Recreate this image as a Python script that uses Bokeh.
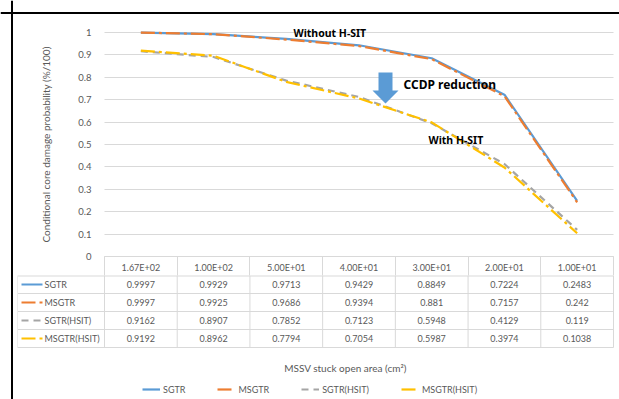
from bokeh.plotting import figure
from bokeh.models import (Range1d, FixedTicker, PrintfTickFormatter, LinearAxis,
                          Grid, Legend, LegendItem, Span)
from bokeh.embed import file_html
from bokeh.resources import INLINE
from bokeh.core.properties import value

# ---------------- data ----------------
categories = ["1.67E+02", "1.00E+02", "5.00E+01", "4.00E+01",
              "3.00E+01", "2.00E+01", "1.00E+01"]
series_names = ["SGTR", "MSGTR", "SGTR(HSIT)", "MSGTR(HSIT)"]
sgtr = [0.9997, 0.9929, 0.9713, 0.9429, 0.8849, 0.7224, 0.2483]
msgtr = [0.9997, 0.9925, 0.9686, 0.9394, 0.881, 0.7157, 0.242]
sgtr_hsit = [0.9162, 0.8907, 0.7852, 0.7123, 0.5948, 0.4129, 0.119]
msgtr_hsit = [0.9192, 0.8962, 0.7794, 0.7054, 0.5987, 0.3974, 0.1038]
y_ticks = [0.0, 0.1, 0.2, 0.3, 0.4, 0.5, 0.6, 0.7, 0.8, 0.9, 1.0]
y_title = "Conditional core damage probability (%/100)"
x_title = "MSSV stuck open area (cm\u00b2)"
ann_text = ["Without H-SIT", "CCDP reduction", "With H-SIT"]

# ---------------- styles / layout ----------------
FONT = "Lato"
BOLD = "Noto Sans"
TXT = "#595959"
GRID = "#D9D9D9"
colors = ["#5B9BD5", "#ED7D31", "#A5A5A5", "#FFC000"]
dashes = ["solid", "14 4 3 4", "7 5", "14 4 3 4"]
LW = 2.2

series = [sgtr, msgtr, sgtr_hsit, msgtr_hsit]
n = len(categories)
xc = [i + 0.5 for i in range(n)]
bounds = list(range(n + 1))

# pixel geometry of the plot area (x: 104..613 for the 7 columns,
# y: value 1 at 32, value 0 at 256)
X0, X7, Y1, Y0 = 104, 613, 32, 256
PX = (X7 - X0) / n
PY = float(Y0 - Y1)
W, H = 619, 399


def gx(px):
    return (px - X0) / PX


def gy(py):
    return (Y0 - py) / PY


p = figure(width=W, height=H,
           x_range=Range1d(gx(0), gx(W)),
           y_range=Range1d(gy(H), gy(0)),
           x_axis_type=None, y_axis_type=None,
           min_border_left=0, min_border_right=0,
           min_border_top=0, min_border_bottom=0,
           output_backend="svg", toolbar_location=None)
p.outline_line_color = None
p.background_fill_color = "white"
p.border_fill_color = "white"

# outer chart border (left / top)
p.add_layout(Span(location=gx(11.5), dimension="height",
                  line_color="black", line_width=2))
p.add_layout(Span(location=gy(12.5), dimension="width",
                  line_color="black", line_width=2))

# ---------------- axes / grid ----------------
yaxis = LinearAxis(fixed_location=0, bounds=(0, 1),
                   ticker=FixedTicker(ticks=y_ticks),
                   formatter=PrintfTickFormatter(format="%g"),
                   axis_label=y_title,
                   axis_line_color=None, major_tick_line_color=None,
                   minor_tick_line_color=None,
                   major_label_standoff=7,
                   major_label_text_font=FONT,
                   major_label_text_font_size="9.5px",
                   major_label_text_color=TXT,
                   axis_label_text_font=FONT,
                   axis_label_text_font_size="10px",
                   axis_label_text_font_style="normal",
                   axis_label_text_color=TXT,
                   axis_label_standoff=23)
p.add_layout(yaxis, "left")

grid_kw = dict(dimension=1, ticker=FixedTicker(ticks=y_ticks),
               grid_line_color=GRID, grid_line_width=1)
if "cross_bounds" in Grid.properties():
    p.add_layout(Grid(cross_bounds=(0, n), **grid_kw))
else:
    p.segment(x0=[0] * len(y_ticks), x1=[n] * len(y_ticks),
              y0=y_ticks, y1=y_ticks, line_color=GRID, line_width=1)

xaxis = LinearAxis(fixed_location=0, bounds=(0, n),
                   ticker=FixedTicker(ticks=xc, minor_ticks=bounds),
                   major_label_overrides={xc[i]: categories[i] for i in range(n)},
                   axis_line_color=GRID,
                   major_tick_out=0, major_tick_in=0,
                   minor_tick_out=19, minor_tick_in=0,
                   minor_tick_line_color=GRID,
                   major_label_standoff=-14,
                   major_label_text_font=FONT,
                   major_label_text_font_size="9px",
                   major_label_text_color=TXT)
p.add_layout(xaxis, "below")

# ---------------- series ----------------
for vals, c, d in zip(series, colors, dashes):
    p.line(xc, vals, line_color=c, line_width=LW, line_dash=d)

# ---------------- annotations ----------------
ann_x = [gx(293), gx(403), gx(428)]
ann_y = [gy(32), gy(84), gy(139)]
ann_size = ["10.5px", "12px", "10.5px"]
for t, x, y, s in zip(ann_text, ann_x, ann_y, ann_size):
    p.text(x=[x], y=[y], text=[t], text_font=value(BOLD),
           text_font_style="bold", text_font_size=s, text_color="black",
           text_align="left", text_baseline="middle")

acx = gx(385)
a_top, a_mid, a_tip = gy(72), gy(90), gy(103)
hs, hh = 7 / PX, 13 / PX
p.patch([acx - hs, acx + hs, acx + hs, acx + hh, acx, acx - hh, acx - hs],
        [a_top, a_top, a_mid, a_mid, a_tip, a_mid, a_mid],
        fill_color="#5B9BD5", line_color=None)

# ---------------- data table ----------------
ROW_TOP, ROW_H = 275, 18
row_c = [gy(ROW_TOP + ROW_H * r + ROW_H / 2) for r in range(len(series))]
row_lines = [gy(ROW_TOP + 0.5)] + [gy(ROW_TOP + ROW_H * (r + 1))
                                    for r in range(len(series))]
x_left = gx(17)
p.segment(x0=[x_left] * len(row_lines), x1=[n] * len(row_lines),
          y0=row_lines, y1=row_lines, line_color=GRID, line_width=1)
p.segment(x0=bounds, x1=bounds, y0=[row_lines[0]] * len(bounds),
          y1=[row_lines[-1]] * len(bounds), line_color=GRID, line_width=1)
p.segment(x0=[x_left], x1=[x_left], y0=[row_lines[0]], y1=[row_lines[-1]],
          line_color="#EDEDED", line_width=1)

sw_x = [gx(21), gx(42)]
swatches = []
for r, (c, d) in enumerate(zip(colors, dashes)):
    swatches.append(p.line(sw_x, [row_c[r], row_c[r]], line_color=c,
                           line_width=LW, line_dash=d))
p.text(x=[gx(44)] * len(series_names), y=row_c, text=series_names,
       text_font=value(FONT), text_font_size="9px", text_color=TXT,
       text_align="left", text_baseline="middle")

vx, vy, vt = [], [], []
for r, vals in enumerate(series):
    for i, v in enumerate(vals):
        vx.append(xc[i])
        vy.append(row_c[r])
        vt.append(str(v))
p.text(x=vx, y=vy, text=vt, text_font=value(FONT), text_font_size="9px",
       text_color=TXT, text_align="center", text_baseline="middle")

p.text(x=[gx(345)], y=[gy(367)], text=[x_title], text_font=value(FONT),
       text_font_size="10px", text_color=TXT, text_align="center",
       text_baseline="middle")

legend = Legend(items=[LegendItem(label=nm, renderers=[r])
                       for nm, r in zip(series_names, swatches)],
                orientation="horizontal", location=(142, 4),
                glyph_width=18, glyph_height=12, label_height=12,
                label_standoff=3, spacing=32, padding=0, margin=0,
                border_line_color=None, background_fill_alpha=0,
                label_text_font=FONT, label_text_font_size="9px",
                label_text_color=TXT)
p.add_layout(legend)

open("out.html", "w").write(file_html(p, INLINE))
